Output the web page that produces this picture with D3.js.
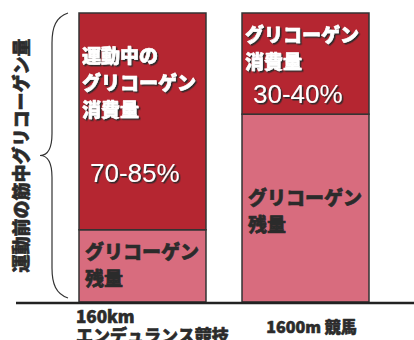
<!DOCTYPE html>
<html>
<head>
<meta charset="utf-8">
<script src="https://cdn.jsdelivr.net/npm/d3@7/dist/d3.min.js"></script>
<style>
  html, body { margin: 0; padding: 0; background: #fff; }
  svg { display: block; }
</style>
</head>
<body>
<svg id="chart" width="414" height="340"></svg>
<script>
// Share of pre-exercise muscle glycogen: consumed vs. remaining (percent)
const categories = ["160km エンデュランス競技", "1600m 競馬"];
const categoryLines = [["160km", "エンデュランス競技"], ["1600m 競馬"]];
const consumed = [75, 35];
const remaining = [25, 65];
const consumedLabels = ["70-85%", "30-40%"];
const consumedTitles = [["運動中の", "グリコーゲン", "消費量"], ["グリコーゲン", "消費量"]];
const remainingTitles = [["グリコーゲン", "残量"], ["グリコーゲン", "残量"]];
const yAxisTitle = "運動前の筋中グリコーゲン量";

const svg = d3.select("#chart");
const jp = "'Noto Sans CJK JP', 'Noto Sans', sans-serif";
const latin = "'Liberation Sans', Arial, sans-serif";
const darkRed = "#B52631";
const pink = "#D86C7E";
const ink = "#2b2b2b";
const heavy = 900;

// bold Japanese text, thickened slightly with a stroke in its own colour
function jpText(sel, color, size) {
  return sel.attr("font-family", jp).attr("font-weight", heavy).attr("font-size", size)
    .attr("fill", color).attr("stroke", color).attr("stroke-width", 0.6)
    .attr("stroke-linejoin", "round").attr("paint-order", "stroke");
}

const defs = svg.append("defs");
const f = defs.append("filter").attr("id", "shadow")
  .attr("x", "-10%").attr("y", "-20%").attr("width", "130%").attr("height", "150%");
f.append("feDropShadow").attr("dx", 1.5).attr("dy", 1.5)
  .attr("stdDeviation", 0.4).attr("flood-color", "#2a2a2a").attr("flood-opacity", 1);

const x = d3.scaleBand().domain(categories).range([79, 369]).paddingInner(0.221).paddingOuter(0);
const y = d3.scaleLinear().domain([0, 100]).range([302, 13]);

const rows = categories.map((c, i) => ({
  cat: c, consumed: consumed[i], remaining: remaining[i], i
}));

// stacked segments: remaining at the bottom, consumed on top
const stack = d3.stack().keys(["remaining", "consumed"])(rows);
const fills = { remaining: pink, consumed: darkRed };

svg.append("g").selectAll("g").data(stack).join("g")
  .attr("fill", d => fills[d.key])
  .selectAll("rect").data(d => d).join("rect")
  .attr("x", d => x(d.data.cat))
  .attr("y", d => y(d[1]))
  .attr("width", x.bandwidth())
  .attr("height", d => y(d[0]) - y(d[1]))
  .attr("stroke", "#333")
  .attr("stroke-width", 1.5);

// baseline
svg.append("line")
  .attr("x1", 16).attr("x2", 414)
  .attr("y1", y(0) + 1).attr("y2", y(0) + 1)
  .attr("stroke", "#222").attr("stroke-width", 2.5);

// labels inside the bars
const lh = 27;
rows.forEach(r => {
  const bx = x(r.cat);
  const top = y(r.consumed + r.remaining);
  const split = y(r.remaining);
  const g = svg.append("g");

  const ct = consumedTitles[r.i];
  const cStart = r.i === 0 ? top + 49.5 : top + 28.5;
  ct.forEach((t, k) => {
    jpText(g.append("text"), "#fff", 19)
      .attr("x", bx + 3).attr("y", cStart + k * lh)
      .attr("filter", "url(#shadow)").text(t);
  });
  const pctY = r.i === 0 ? top + 169 : top + 90;
  g.append("text").attr("x", bx + 11).attr("y", pctY)
    .attr("font-family", latin).attr("font-size", 26)
    .attr("fill", "#fff").attr("filter", "url(#shadow)").text(consumedLabels[r.i]);

  const rt = remainingTitles[r.i];
  const rStart = r.i === 0 ? split + 29.5 : split + 91;
  rt.forEach((t, k) => {
    jpText(g.append("text"), ink, 19)
      .attr("x", bx + 6).attr("y", rStart + k * lh).text(t);
  });
});

// category labels under the baseline
rows.forEach(r => {
  const lines = categoryLines[r.i];
  if (r.i === 0) {
    lines.forEach((t, k) => {
      jpText(svg.append("text"), ink, 17)
        .attr("x", x(r.cat) - 3).attr("y", 323 + k * 18.5).text(t);
    });
  } else {
    jpText(svg.append("text"), ink, 16)
      .attr("x", x(r.cat) + x.bandwidth() / 2 + 6).attr("y", 333)
      .attr("text-anchor", "middle").text(lines[0]);
  }
});

// curly brace spanning the full bar height
const bt = y(100), bb = y(0) - 4, bm = (bt + bb) / 2;
const brace = d3.path();
brace.moveTo(68, bt);
brace.bezierCurveTo(56, bt + 4, 52, bt + 14, 52, bt + 30);
brace.lineTo(52, bm - 22);
brace.bezierCurveTo(52, bm - 8, 48, bm, 40, bm);
brace.bezierCurveTo(48, bm, 52, bm + 8, 52, bm + 22);
brace.lineTo(52, bb - 30);
brace.bezierCurveTo(52, bb - 14, 56, bb - 4, 68, bb);
svg.append("path").attr("d", brace.toString())
  .attr("fill", "none").attr("stroke", "#333").attr("stroke-width", 1.2);

// vertical axis title
jpText(svg.append("text"), ink, 18)
  .attr("transform", `translate(${28},${bm}) rotate(-90)`)
  .attr("text-anchor", "middle").text(yAxisTitle);
</script>
</body>
</html>
